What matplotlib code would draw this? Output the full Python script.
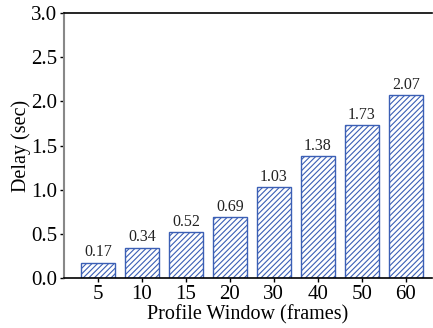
import matplotlib
matplotlib.use('Agg')
import matplotlib.pyplot as plt

windows = ['5', '10', '15', '20', '30', '40', '50', '60']
delays = [0.17, 0.34, 0.52, 0.69, 1.03, 1.38, 1.73, 2.07]

plt.rcParams['font.family'] = ['Liberation Serif', 'DejaVu Serif']
plt.rcParams['hatch.linewidth'] = 0.8

fig = plt.figure(figsize=(4.33, 3.28), dpi=100)
ax = fig.add_axes([0.148, 0.152, 0.85, 0.808])

pos = range(len(windows))
bars = ax.bar(pos, delays, width=0.77, color='white', edgecolor='#3b5fb5',
              hatch='//////', linewidth=1.0)

for b, v in zip(bars, delays):
    ax.text(b.get_x() + b.get_width() / 2, v + 0.03, f'{v:.2f}',
            ha='center', va='bottom', fontsize=11.5, color='#222222')

ax.set_xticks(list(pos))
ax.set_xticklabels(windows)
ax.set_xlim(-0.77, 7.6)
ax.set_ylim(0, 3.0)
ax.set_yticks([0, 0.5, 1.0, 1.5, 2.0, 2.5, 3.0])
ax.set_yticklabels(['0.0', '0.5', '1.0', '1.5', '2.0', '2.5', '3.0'])

ax.tick_params(axis='y', labelsize=15, length=3, width=1, color='black', pad=2)
ax.tick_params(axis='x', labelsize=15, length=3, width=1, color='black', pad=2)
ax.set_xlabel('Profile Window (frames)', fontsize=14.5, labelpad=1)
ax.set_ylabel('Delay (sec)', fontsize=14.5, labelpad=0)

ax.spines['right'].set_visible(False)
ax.spines['left'].set_color('#888888')
ax.spines['left'].set_linewidth(1.5)
ax.spines['top'].set_linewidth(1.2)
ax.spines['bottom'].set_linewidth(1.2)

fig.savefig('out.png', dpi=100)
